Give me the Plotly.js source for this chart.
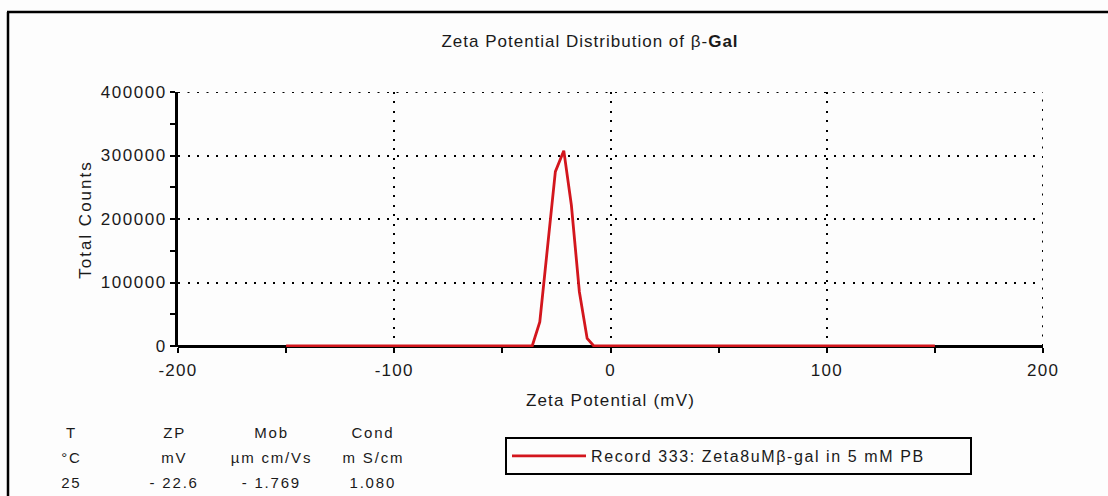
<!DOCTYPE html>
<html>
<head>
<meta charset="utf-8">
<script src="https://cdn.plot.ly/plotly-3.0.1.min.js"></script>
<style>
  html, body { margin: 0; padding: 0; background: #fdfdfd; }
  #chart { width: 1108px; height: 496px; }
  #chart .gtitle { letter-spacing: 1px; }
  #chart .xtitle { letter-spacing: 1.2px; }
  #chart .ytitle { letter-spacing: 2px; }
  #chart .xtick text { letter-spacing: 1.3px; }
  #chart .ytick text { letter-spacing: 1.5px; }
  #chart .legendtext { letter-spacing: 1.6px; }
  #chart .annotation-text { letter-spacing: 1.8px; }
</style>
</head>
<body>
<div id="chart"></div>
<script>
// Data
const zetaPotential = [-150, -36.2, -32.7, -25.5, -21.6, -18.1, -14.4, -10.8, -7.7, 150];
const totalCounts   = [0, 0, 38000, 274500, 307600, 222000, 85500, 12000, 0, 0];
const seriesName = "Record 333: Zeta8uMβ-gal in 5 mM PB";

const xTickValues = [-200, -100, 0, 100, 200];
const xTickLabels = ["-200", "-100", "0", "100", "200"];
const yTickValues = [0, 100000, 200000, 300000, 400000];
const yTickLabels = ["0", "100000", "200000", "300000", "400000"];

const tableHeaders = ["T", "ZP", "Mob", "Cond"];
const tableUnits   = ["°C", "mV", "µm cm/Vs", "m S/cm"];
const tableValues  = ["25", "- 22.6", "- 1.769", "1.080"];

const FONT = "Liberation Sans, Arial, sans-serif";
const INK = "#1a1a1a";

const xMin = xTickValues[0], xMax = xTickValues[xTickValues.length - 1];
const yMax = yTickValues[yTickValues.length - 1];

const W = 1108, H = 496;
const L = 178, R = 65, T = 92, B = 149;
const pw = W - L - R, ph = H - T - B;
// one pixel of room below zero so the baseline of the red line is not clipped
const yLow = -yMax / 254;
function px(xpix) { return (xpix - L) / pw; }
function py(ypix) { return (H - B - ypix) / ph; }

const colX = [71, 174, 271, 373];
const rowY = [432, 457, 482];
const annotations = [];
[tableHeaders, tableUnits, tableValues].forEach((row, r) => {
  row.forEach((txt, c) => {
    annotations.push({
      xref: "paper", yref: "paper", x: px(colX[c]), y: py(rowY[r]),
      xanchor: "center", yanchor: "middle", showarrow: false,
      text: txt, font: { family: FONT, size: 15, color: INK }
    });
  });
});

const trace = {
  x: zetaPotential, y: totalCounts, type: "scatter", mode: "lines",
  name: seriesName, line: { color: "#d3161d", width: 2.8 },
  hoverinfo: "skip"
};

const gridDashX = "2px,7.4px";
const gridDashY = "2px,7.5px";
const tickStyle = { ticklen: 5, tickwidth: 2, tickcolor: "#000" };

const layout = {
  width: W, height: H,
  paper_bgcolor: "#fdfdfd", plot_bgcolor: "#fdfdfd",
  margin: { l: L, r: R, t: T, b: B, pad: 0 },
  font: { family: FONT, color: INK },
  title: {
    text: "Zeta Potential Distribution of β-<b>Gal</b>",
    font: { family: FONT, size: 17, color: INK },
    xref: "paper", x: px(590), xanchor: "center",
    yref: "container", y: 1 - 41 / H, yanchor: "middle"
  },
  showlegend: true,
  legend: {
    orientation: "h", x: px(505), y: py(437), xanchor: "left", yanchor: "top",
    bordercolor: "#000", borderwidth: 2, bgcolor: "rgba(0,0,0,0)",
    font: { family: FONT, size: 16, color: INK },
    entrywidth: 374, itemwidth: 74
  },
  xaxis: Object.assign({
    range: [xMin, xMax], tickvals: xTickValues, ticktext: xTickLabels,
    showline: false,
    ticks: "outside",
    minor: Object.assign({ dtick: 50, tick0: 0, ticks: "outside", showgrid: false }, tickStyle),
    showgrid: true, gridcolor: "#000", gridwidth: 2, griddash: gridDashX,
    zeroline: false, ticklabelstandoff: 3,
    tickfont: { family: FONT, size: 17, color: INK },
    title: { text: "Zeta Potential (mV)", font: { family: FONT, size: 17, color: INK }, standoff: 14 },
    fixedrange: true
  }, tickStyle),
  xaxis2: Object.assign({
    overlaying: "x", anchor: "y", range: [xMin, xMax], dtick: 50, tick0: 0,
    ticks: "inside",
    showticklabels: false, showgrid: false, zeroline: false, showline: false
  }, tickStyle),
  yaxis: Object.assign({
    range: [yLow, yMax], tickvals: yTickValues, ticktext: yTickLabels,
    showline: true, linecolor: "#000", linewidth: 3, layer: "below traces",
    ticks: "outside",
    minor: Object.assign({ dtick: 50000, tick0: 0, ticks: "outside", showgrid: false }, tickStyle),
    showgrid: true, gridcolor: "#000", gridwidth: 2, griddash: gridDashY,
    zeroline: true, zerolinecolor: "#000", zerolinewidth: 3, zerolinelayer: "below traces",
    tickfont: { family: FONT, size: 17, color: INK },
    title: { text: "Total Counts", font: { family: FONT, size: 17, color: INK }, standoff: 14 },
    fixedrange: true
  }, tickStyle),
  yaxis2: Object.assign({
    overlaying: "y", anchor: "x", side: "left", range: [yLow, yMax], dtick: 50000, tick0: 0,
    ticks: "inside",
    showticklabels: false, showgrid: false, zeroline: false, showline: false
  }, tickStyle),
  shapes: [
    // gridlines on the top and right edges of the plot (Plotly drops edge gridlines)
    { type: "line", layer: "below", xref: "x", yref: "y", x0: xMin, x1: xMax, y0: yMax, y1: yMax,
      line: { color: "#000", width: 2, dash: gridDashY } },
    { type: "line", layer: "below", xref: "x", yref: "y", x0: xMax, x1: xMax, y0: 0, y1: yMax,
      line: { color: "#000", width: 2, dash: gridDashX } },
    // outer frame of the original figure
    { type: "line", xref: "paper", yref: "paper", x0: px(8), x1: px(8), y0: py(12), y1: py(H + 5), line: { color: "#000", width: 2.5 } },
    { type: "line", xref: "paper", yref: "paper", x0: px(7), x1: px(W + 5), y0: py(12), y1: py(12), line: { color: "#000", width: 2.5 } }
  ],
  annotations: annotations
};

Plotly.newPlot("chart", [trace], layout, { displayModeBar: false, staticPlot: true });
</script>
</body>
</html>
